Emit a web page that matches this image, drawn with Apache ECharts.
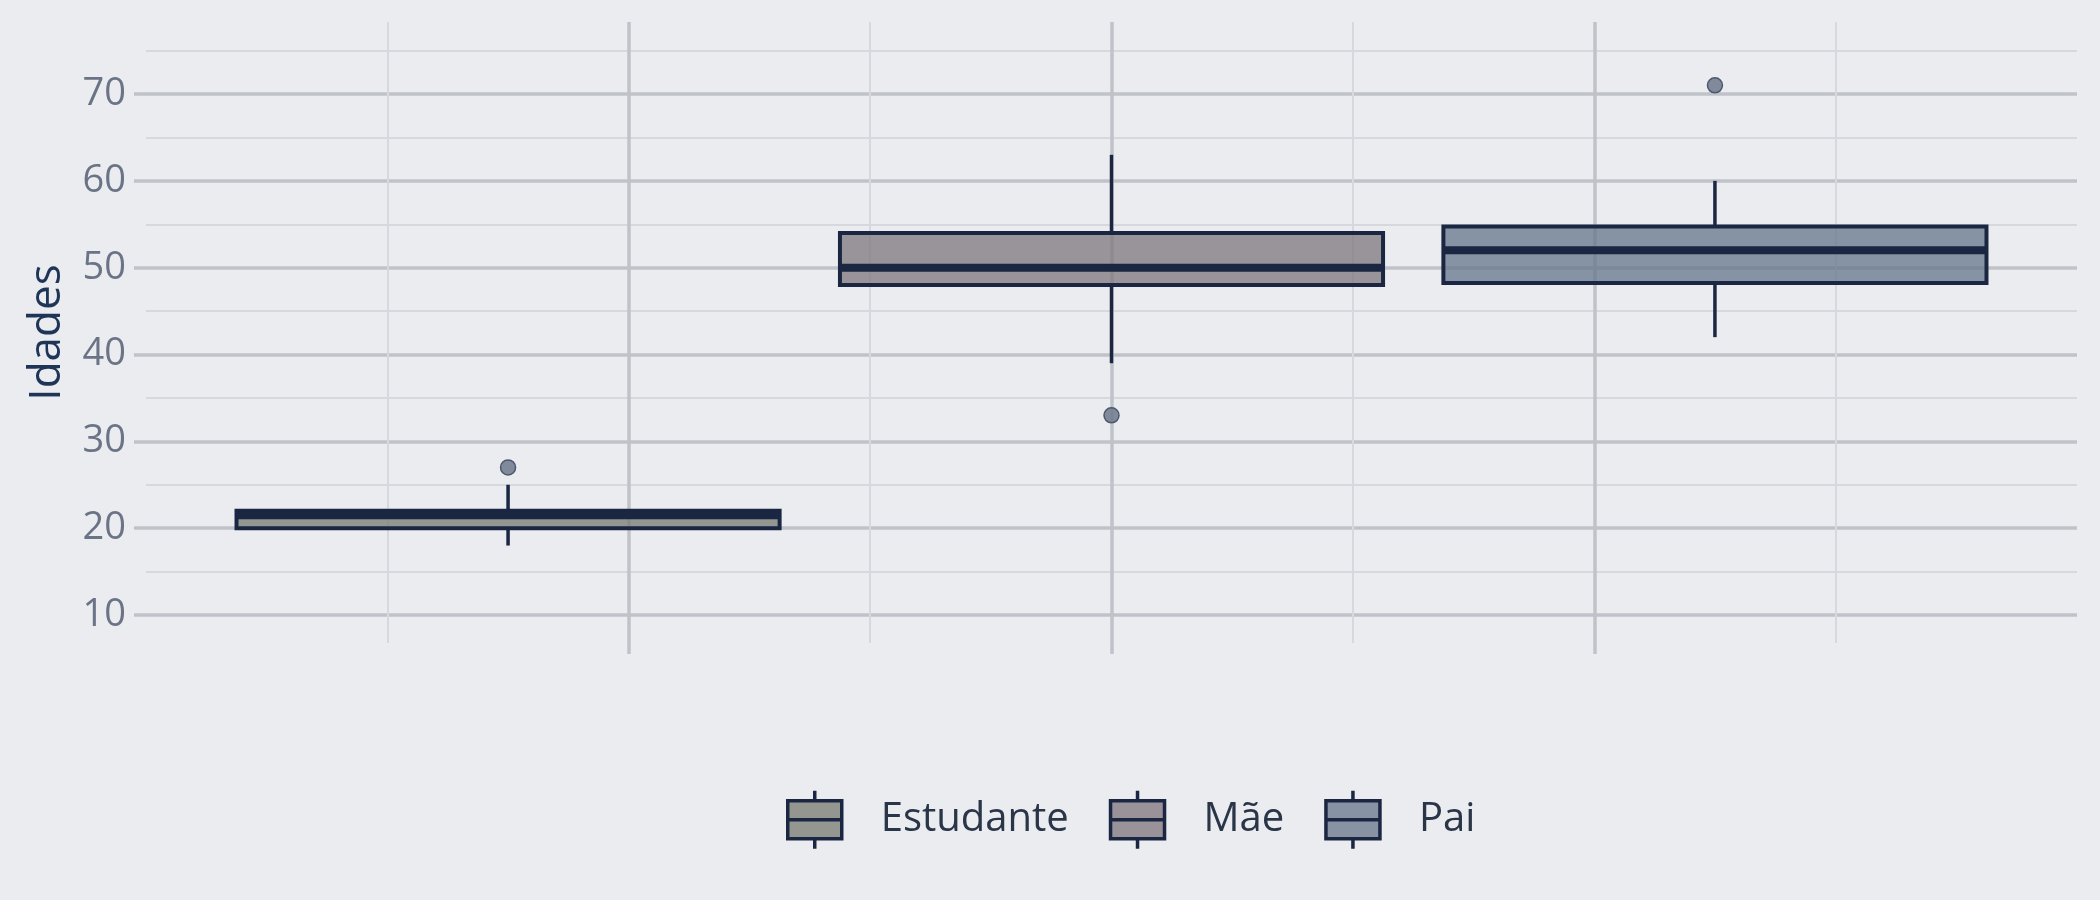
<!DOCTYPE html>
<html>
<head>
<meta charset="utf-8">
<script src="https://cdn.jsdelivr.net/npm/echarts@6/dist/echarts.min.js"></script>
<style>
html,body{margin:0;padding:0;background:#ebecf0;}
#chart{width:2100px;height:900px;}
</style>
</head>
<body>
<div id="chart"></div>
<script>
// ---- data ----
const categories = ['Estudante', 'Mãe', 'Pai'];
const whiskerLow  = [18, 39, 42];
const q1Values    = [20, 48, 48.25];
const medians     = [21.5, 50, 52];
const q3Values    = [22, 54, 54.75];
const whiskerHigh = [25, 63, 60];
const outliers    = [[27], [33], [71]];
const yTicks      = [10, 20, 30, 40, 50, 60, 70];

// ---- style ----
const DARK = '#1b2742';
const fills = ['rgba(119,124,114,0.76)', 'rgba(128,118,126,0.76)', 'rgba(103,118,139,0.76)'];
const legendFills = ['#939790', '#9a9299', '#8792a3'];
const MAJOR = '#bfc3c9', MINOR = '#d5d8dd';
const FONT = '"Open Sans", "Noto Sans", sans-serif';

// ggplot-style dodge on a single discrete x position (x = 1)
const DODGE = 0.25, BOX_W = 0.225;
const xPos = categories.map((c, i) => 1 + (i - (categories.length - 1) / 2) * DODGE);

const chart = echarts.init(document.getElementById('chart'), null, {renderer: 'canvas'});

const grids = [
  {left: 134, right: 23, top: 7.2, bottom: 285},   // 0: horizontal majors + labels
  {left: 146, right: 23, top: 7.2, bottom: 285},   // 1: horizontal minors + series
  {left: 146, right: 23, top: 22, bottom: 246},    // 2: vertical majors (with tick extension)
  {left: 146, right: 23, top: 22, bottom: 257}     // 3: vertical minors, axis title
];

const hiddenX = (g) => ({type: 'value', gridIndex: g, min: 0.6, max: 1.4, show: false});
const hiddenY = (g) => ({type: 'value', gridIndex: g, min: 0, max: 1, show: false});

const xAxes = [
  hiddenX(0),
  hiddenX(1),
  {type: 'value', gridIndex: 2, min: 0.6, max: 1.4, interval: 0.2,
   axisLine: {show: false}, axisTick: {show: false}, axisLabel: {show: false},
   splitLine: {show: true, showMinLine: false, showMaxLine: false, lineStyle: {color: MAJOR, width: 3.5}}},
  {type: 'value', gridIndex: 3, min: 0.6, max: 1.4, interval: 0.2,
   axisLine: {show: false}, axisTick: {show: false}, axisLabel: {show: false},
   splitLine: {show: false},
   minorTick: {show: false, splitNumber: 2},
   minorSplitLine: {show: true, lineStyle: {color: MINOR, width: 2}}}
];

const yAxes = [
  {type: 'value', gridIndex: 0, min: yTicks[0], max: 80, interval: 10,
   axisLine: {show: false}, axisTick: {show: false},
   axisLabel: {show: true, showMaxLabel: false, margin: 8, fontFamily: FONT, fontSize: 38, color: '#6b7386'},
   splitLine: {show: true, showMaxLine: false, lineStyle: {color: MAJOR, width: 3.5}}},
  {type: 'value', gridIndex: 1, min: yTicks[0], max: 80, interval: 10,
   axisLine: {show: false}, axisTick: {show: false}, axisLabel: {show: false},
   splitLine: {show: false},
   minorTick: {show: false, splitNumber: 2},
   minorSplitLine: {show: true, lineStyle: {color: MINOR, width: 2}}},
  hiddenY(2),
  {type: 'value', gridIndex: 3, min: 0, max: 1,
   name: 'Idades', nameLocation: 'middle', nameGap: 77,
   nameTextStyle: {fontFamily: FONT, fontSize: 44, color: '#1f3558'},
   axisLine: {show: false}, axisTick: {show: false}, axisLabel: {show: false},
   splitLine: {show: false}}
];

function renderBox(params, api) {
  const x = api.value(0);
  const lo = api.value(1), q1 = api.value(2), md = api.value(3), q3 = api.value(4), hi = api.value(5);
  const h = BOX_W / 2;
  const tl = api.coord([x - h, q3]);
  const br = api.coord([x + h, q1]);
  const mL = api.coord([x - h, md]);
  const mR = api.coord([x + h, md]);
  const pHi = api.coord([x, hi]), pQ3 = api.coord([x, q3]);
  const pQ1 = api.coord([x, q1]), pLo = api.coord([x, lo]);
  const idx = params.seriesIndex;
  return {
    type: 'group',
    children: [
      {type: 'line', shape: {x1: pHi[0], y1: pHi[1], x2: pQ3[0], y2: pQ3[1]}, style: {stroke: DARK, lineWidth: 3.5}},
      {type: 'line', shape: {x1: pQ1[0], y1: pQ1[1], x2: pLo[0], y2: pLo[1]}, style: {stroke: DARK, lineWidth: 3.5}},
      {type: 'rect', shape: {x: tl[0], y: tl[1], width: br[0] - tl[0], height: br[1] - tl[1]},
       style: {fill: fills[idx], stroke: DARK, lineWidth: 4}},
      {type: 'line', shape: {x1: mL[0], y1: mL[1], x2: mR[0], y2: mR[1]}, style: {stroke: DARK, lineWidth: 8}}
    ]
  };
}

const boxSeries = categories.map((name, i) => ({
  name: name,
  type: 'custom',
  xAxisIndex: 1, yAxisIndex: 1,
  renderItem: renderBox,
  itemStyle: {color: legendFills[i]},
  data: [[xPos[i], whiskerLow[i], q1Values[i], medians[i], q3Values[i], whiskerHigh[i]]],
  z: 3
}));

const outlierSeries = categories.map((name, i) => ({
  name: name,
  type: 'scatter',
  xAxisIndex: 1, yAxisIndex: 1,
  symbol: 'circle', symbolSize: 15,
  itemStyle: {color: 'rgba(110,121,139,0.85)', borderColor: '#4d5870', borderWidth: 1.5, opacity: 1},
  data: outliers[i].map(v => [xPos[i], v]),
  z: 4
}));

const ICON = 'path://M0,10 L54,10 L54,48 L0,48 Z M0,29 L54,29 M27,0 L27,10 M27,48 L27,58';

chart.setOption({
  backgroundColor: '#ebecf0',
  animation: false,
  textStyle: {fontFamily: FONT},
  grid: grids,
  xAxis: xAxes,
  yAxis: yAxes,
  legend: {
    left: 786, top: 789, padding: 0,
    itemWidth: 54, itemHeight: 58, itemGap: 40,
    textStyle: {fontFamily: FONT, fontSize: 40, color: '#2a3548', padding: [0, 0, 0, 34]},
    data: categories.map((name, i) => ({
      name: name, icon: ICON,
      itemStyle: {color: legendFills[i], borderColor: DARK, borderWidth: 3.5}
    }))
  },
  series: boxSeries.concat(outlierSeries)
});
</script>
</body>
</html>
